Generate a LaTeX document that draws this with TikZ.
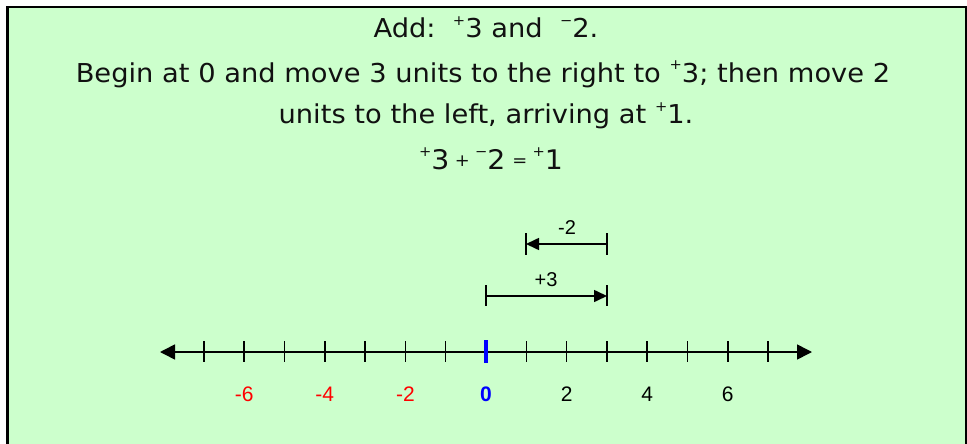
\documentclass[tikz,border=0pt]{standalone}
\usepackage{fontspec}
\setmainfont[FakeStretch=1.05]{DejaVu Sans}
\newfontfamily\arialfont{Liberation Sans}
\usetikzlibrary{arrows.meta}
\definecolor{bgfill}{HTML}{CCFFCC}
\definecolor{numred}{HTML}{FF0000}
\definecolor{numblue}{HTML}{0000FF}
\definecolor{txtcol}{HTML}{111111}
\newcommand\upsgn[1]{\raisebox{0.48em}{\fontsize{14}{14}\selectfont #1}}
\newcommand\smsgn[1]{\raisebox{0.08em}{\fontsize{17}{17}\selectfont #1}}
\begin{document}
\begin{tikzpicture}[x=1pt,y=-1pt,
  txt/.style={inner sep=0pt,anchor=base,text=txtcol,font=\fontsize{26}{26}\selectfont},
  lbl/.style={inner sep=0pt,font=\arialfont\fontsize{21}{21}\selectfont},
  jlbl/.style={inner sep=0pt,font=\arialfont\fontsize{20}{20}\selectfont},
  axis/.style={line width=1.6pt,{Triangle[length=15pt,width=15pt]}-{Triangle[length=15pt,width=15pt]}},
  tick/.style={line width=1.5pt},
  jump/.style={line width=1.6pt,-{Triangle[length=13pt,width=12pt]}},
  bar/.style={line width=1.6pt}]
\useasboundingbox (0,0) rectangle (967,444);
\fill[bgfill] (7,7) rectangle (967,444);
\draw[line width=3pt] (7,444) -- (7,7);
\draw[line width=2.4pt] (6,7) -- (967,7);
\draw[line width=1.2pt] (966,7) -- (966,444);
% texts
\node[txt] (t1) at (486,38) {Add:\ \ \upsgn{+}3 and \ \upsgn{−}2.};
\node[txt] (t2) at (483,82) {Begin at 0 and move 3 units to the right to \upsgn{+}3; then move 2};
\node[txt] (t3) at (486,124) {units to the left, arriving at \upsgn{+}1.};
\node[txt,font=\fontsize{27}{27}\selectfont] (t4) at (491,169) {\upsgn{+}3\hspace{0.2em}\smsgn{+}\hspace{0.2em}\upsgn{−}2\hspace{0.25em}\smsgn{=}\hspace{0.2em}\upsgn{+}1};
% number line
\coordinate (L) at (160,352);
\coordinate (R) at (812,352);
\draw[axis] (L) -- (R);
\foreach \i in {-7,...,7}{
  \ifnum\i=0\else
  \draw[tick] (486+40.3*\i,341) -- (486+40.3*\i,362);
  \fi
}
\draw[line width=3.6pt,numblue] (486,340) -- (486,363);
\foreach \i in {-6,-4,-2}{
  \node[lbl,text=numred] (n\i) at (486+40.3*\i,394) {\i};
}
\node[lbl,text=numblue,font=\arialfont\bfseries\fontsize{21}{21}\selectfont] (n0) at (486,394) {0};
\foreach \i in {2,4,6}{
  \node[lbl] (n\i) at (486+40.3*\i,394) {\i};
}
% jumps
\coordinate (p0) at (486,296);
\coordinate (p3) at (607,296);
\draw[jump] (p0) -- (p3);
\draw[bar] (486,285) -- (486,306);
\draw[bar] (607,285) -- (607,306);
\node[jlbl] (j1) at (546,280) {+3};
\coordinate (q3) at (607,244);
\coordinate (q1) at (526,244);
\draw[jump] (q3) -- (q1);
\draw[bar] (526,233) -- (526,255);
\draw[bar] (607,233) -- (607,255);
\node[jlbl] (j2) at (567,228) {-2};
\end{tikzpicture}
\end{document}
